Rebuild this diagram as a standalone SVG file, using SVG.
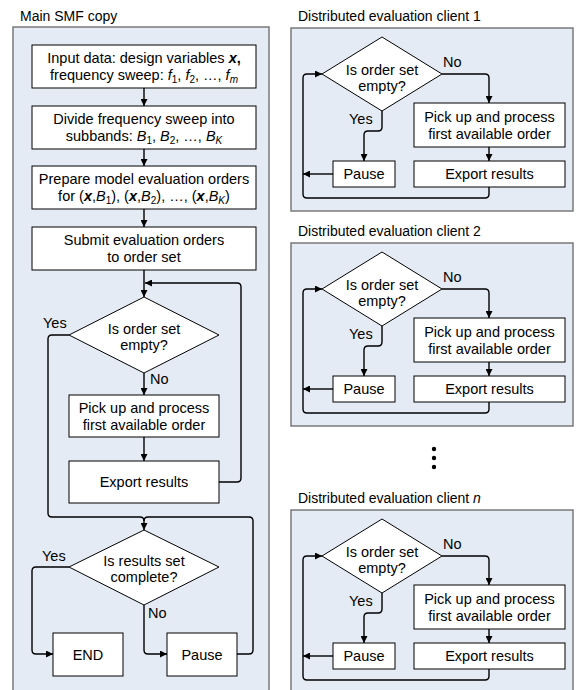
<svg xmlns="http://www.w3.org/2000/svg" width="577" height="690" viewBox="0 0 577 690">
<defs>
<marker id="ah" viewBox="0 0 10 10" refX="10" refY="5" markerWidth="8" markerHeight="7" markerUnits="userSpaceOnUse" orient="auto">
<path d="M0,0 L10,5 L0,10 z" fill="#000"/>
</marker>
<style>
.panel{fill:#e5ebf5;stroke:#7a7a7a;stroke-width:1.5}
.box{fill:#fff;stroke:#000;stroke-width:1}
.ln{fill:none;stroke:#000;stroke-width:1.4}
.arr{marker-end:url(#ah)}
text{font-family:"Liberation Sans",Arial,sans-serif;font-size:14.5px;fill:#000}
.c{text-anchor:middle}
.ttl{font-size:14px}
.i{font-style:italic}
.bi{font-style:italic;font-weight:bold}
.sub{font-size:10px}
</style>
</defs>
<rect width="577" height="690" fill="#fff"/>

<!-- Main SMF copy -->
<g id="main">
<text class="ttl" x="20" y="21">Main SMF copy</text>
<rect class="panel" x="13" y="27" width="256" height="680"/>

<g id="m-input">
<rect class="box" x="32" y="45" width="224" height="43"/>
<text class="c" x="144" y="63">Input data: design variables <tspan class="bi">x</tspan><tspan font-weight="bold">,</tspan></text>
<text class="c" x="144" y="80">frequency sweep: <tspan class="i">f</tspan><tspan class="sub" dy="3">1</tspan><tspan dy="-3">, </tspan><tspan class="i">f</tspan><tspan class="sub" dy="3">2</tspan><tspan dy="-3">, …, </tspan><tspan class="i">f</tspan><tspan class="sub i" dy="3">m</tspan></text>
</g>
<g id="m-divide">
<rect class="box" x="32" y="106" width="224" height="43"/>
<text class="c" x="144" y="124">Divide frequency sweep into</text>
<text class="c" x="144" y="141">subbands: <tspan class="i">B</tspan><tspan class="sub" dy="3">1</tspan><tspan dy="-3">, </tspan><tspan class="i">B</tspan><tspan class="sub" dy="3">2</tspan><tspan dy="-3">, …, </tspan><tspan class="i">B</tspan><tspan class="sub i" dy="3">K</tspan></text>
</g>
<g id="m-prepare">
<rect class="box" x="32" y="166" width="224" height="43"/>
<text class="c" x="144" y="184">Prepare model evaluation orders</text>
<text class="c" x="144" y="201">for (<tspan class="bi">x</tspan>,<tspan class="i">B</tspan><tspan class="sub" dy="3">1</tspan><tspan dy="-3">), (</tspan><tspan class="bi">x</tspan>,<tspan class="i">B</tspan><tspan class="sub" dy="3">2</tspan><tspan dy="-3">), …, (</tspan><tspan class="bi">x</tspan>,<tspan class="i">B</tspan><tspan class="sub i" dy="3">K</tspan><tspan dy="-3">)</tspan></text>
</g>
<g id="m-submit">
<rect class="box" x="32" y="227" width="224" height="43"/>
<text class="c" x="144" y="245">Submit evaluation orders</text>
<text class="c" x="144" y="262">to order set</text>
</g>
<g id="m-empty">
<polygon class="box" points="144,297 219,335 144,373 69,335"/>
<text class="c" x="144" y="334">Is order set</text>
<text class="c" x="144" y="350">empty?</text>
</g>
<g id="m-pick">
<rect class="box" x="69" y="395" width="150" height="42"/>
<text class="c" x="144" y="413">Pick up and process</text>
<text class="c" x="144" y="430">first available order</text>
</g>
<g id="m-export">
<rect class="box" x="69" y="461" width="150" height="42"/>
<text class="c" x="144" y="487">Export results</text>
</g>
<g id="m-complete">
<polygon class="box" points="144,530 219,567 144,605 69,567"/>
<text class="c" x="144" y="566">Is results set</text>
<text class="c" x="144" y="582">complete?</text>
</g>
<g id="m-end">
<rect class="box" x="53" y="633" width="70" height="43"/>
<text class="c" x="88" y="660">END</text>
</g>
<g id="m-pause">
<rect class="box" x="167" y="633" width="70" height="43"/>
<text class="c" x="202" y="660">Pause</text>
</g>

<g id="m-connectors">
<path class="ln arr" d="M144,88 V106"/>
<path class="ln arr" d="M144,149 V166"/>
<path class="ln arr" d="M144,209 V227"/>
<path class="ln arr" d="M144,270 V297"/>
<path class="ln arr" d="M144,373 V395"/>
<path class="ln arr" d="M144,437 V461"/>
<path class="ln arr" d="M219,482 H237 Q241,482 241,478 V287 Q241,283 237,283 H145"/>
<path class="ln" d="M69,335 H52 Q48,335 48,339 V513 Q48,517 52,517 H140 Q144,517 144,521"/>
<path class="ln arr" d="M237,654 H249 Q253,654 253,650 V521 Q253,517 249,517 H148 Q144,517 144,521 V530"/>
<path class="ln arr" d="M69,567 H36 Q32,567 32,571 V650 Q32,654 36,654 H53"/>
<path class="ln arr" d="M144,605 V650 Q144,654 148,654 H167"/>
<text x="43" y="328">Yes</text>
<text x="150" y="384">No</text>
<text x="42" y="561">Yes</text>
<text x="148" y="618">No</text>
</g>
</g>

<!-- Client 1 -->
<g id="client1">
<text class="ttl" x="298" y="21">Distributed evaluation client 1</text>
<rect class="panel" x="291" y="28" width="282" height="183"/>
<g id="c1-empty">
<polygon class="box" points="382,37 442,74 382,111 322,74"/>
<text class="c" x="382" y="75">Is order set</text>
<text class="c" x="382" y="91">empty?</text>
</g>
<g id="c1-pick">
<rect class="box" x="414" y="103" width="151" height="44"/>
<text class="c" x="489.5" y="122">Pick up and process</text>
<text class="c" x="489.5" y="139">first available order</text>
</g>
<g id="c1-export">
<rect class="box" x="414" y="161" width="151" height="26"/>
<text class="c" x="489.5" y="179">Export results</text>
</g>
<g id="c1-pause">
<rect class="box" x="333" y="161" width="62" height="26"/>
<text class="c" x="364" y="179">Pause</text>
</g>
<g id="c1-connectors">
<path class="ln arr" d="M442,74 H485 Q489,74 489,78 V103"/>
<path class="ln arr" d="M489,147 V161"/>
<path class="ln arr" d="M382,111 V127 Q382,131 378,131 H368 Q364,131 364,135 V161"/>
<path class="ln arr" d="M333,174 H303"/>
<path class="ln arr" d="M489,187 V194 Q489,198 485,198 H307 Q303,198 303,194 V78 Q303,74 307,74 H322"/>
<text x="443" y="67">No</text>
<text x="349" y="124">Yes</text>
</g>
</g>

<!-- Client 2 -->
<g id="client2" transform="translate(0,215)">
<text class="ttl" x="298" y="21">Distributed evaluation client 2</text>
<rect class="panel" x="291" y="28" width="282" height="183"/>
<g id="c2-empty">
<polygon class="box" points="382,37 442,74 382,111 322,74"/>
<text class="c" x="382" y="75">Is order set</text>
<text class="c" x="382" y="91">empty?</text>
</g>
<g id="c2-pick">
<rect class="box" x="414" y="103" width="151" height="44"/>
<text class="c" x="489.5" y="122">Pick up and process</text>
<text class="c" x="489.5" y="139">first available order</text>
</g>
<g id="c2-export">
<rect class="box" x="414" y="161" width="151" height="26"/>
<text class="c" x="489.5" y="179">Export results</text>
</g>
<g id="c2-pause">
<rect class="box" x="333" y="161" width="62" height="26"/>
<text class="c" x="364" y="179">Pause</text>
</g>
<g id="c2-connectors">
<path class="ln arr" d="M442,74 H485 Q489,74 489,78 V103"/>
<path class="ln arr" d="M489,147 V161"/>
<path class="ln arr" d="M382,111 V127 Q382,131 378,131 H368 Q364,131 364,135 V161"/>
<path class="ln arr" d="M333,174 H303"/>
<path class="ln arr" d="M489,187 V194 Q489,198 485,198 H307 Q303,198 303,194 V78 Q303,74 307,74 H322"/>
<text x="443" y="67">No</text>
<text x="349" y="124">Yes</text>
</g>
</g>

<!-- ellipsis -->
<g id="dots">
<circle cx="434" cy="449" r="2.2"/>
<circle cx="434" cy="458" r="2.2"/>
<circle cx="434" cy="467" r="2.2"/>
</g>

<!-- Client n -->
<g id="clientn" transform="translate(0,482)">
<text class="ttl" x="298" y="21">Distributed evaluation client <tspan class="i">n</tspan></text>
<rect class="panel" x="291" y="28" width="282" height="200"/>
<g id="cn-empty">
<polygon class="box" points="382,37 442,74 382,111 322,74"/>
<text class="c" x="382" y="75">Is order set</text>
<text class="c" x="382" y="91">empty?</text>
</g>
<g id="cn-pick">
<rect class="box" x="414" y="103" width="151" height="44"/>
<text class="c" x="489.5" y="122">Pick up and process</text>
<text class="c" x="489.5" y="139">first available order</text>
</g>
<g id="cn-export">
<rect class="box" x="414" y="161" width="151" height="26"/>
<text class="c" x="489.5" y="179">Export results</text>
</g>
<g id="cn-pause">
<rect class="box" x="333" y="161" width="62" height="26"/>
<text class="c" x="364" y="179">Pause</text>
</g>
<g id="cn-connectors">
<path class="ln arr" d="M442,74 H485 Q489,74 489,78 V103"/>
<path class="ln arr" d="M489,147 V161"/>
<path class="ln arr" d="M382,111 V127 Q382,131 378,131 H368 Q364,131 364,135 V161"/>
<path class="ln arr" d="M333,174 H303"/>
<path class="ln arr" d="M489,187 V194 Q489,198 485,198 H307 Q303,198 303,194 V78 Q303,74 307,74 H322"/>
<text x="443" y="67">No</text>
<text x="349" y="124">Yes</text>
</g>
</g>
</svg>
